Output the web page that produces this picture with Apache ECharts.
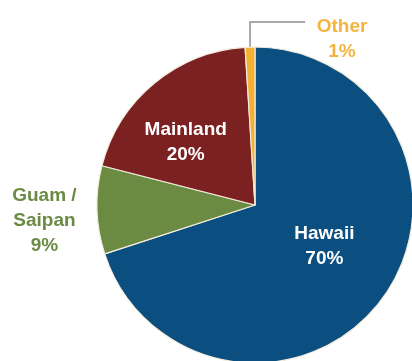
<!DOCTYPE html>
<html>
<head>
<meta charset="utf-8">
<script src="https://cdn.jsdelivr.net/npm/echarts@6/dist/echarts.min.js"></script>
<style>
  html, body { margin: 0; padding: 0; background: #ffffff; }
  #chart { width: 412px; height: 361px; }
</style>
</head>
<body>
<div id="chart"></div>
<script>
// Share of residents by place of origin
const categories = ['Hawaii', 'Guam /\nSaipan', 'Mainland', 'Other'];
const shares = [70, 9, 20, 1];
const sliceColors = ['#0a4f80', '#6b8a42', '#7c2121', '#f3b033'];
const textColors = ['#ffffff', '#6b8a45', '#ffffff', '#f3b33f'];

const chart = echarts.init(document.getElementById('chart'), null, { renderer: 'canvas' });

const baseFont = {
  fontFamily: 'Liberation Sans, Arial, Helvetica, sans-serif',
  fontWeight: 'bold',
  fontSize: 19,
  lineHeight: 25
};

// per-slice label placement
const labelSetup = [
  { position: 'inside', offset: [3, -7] },
  { position: 'outside' },
  { position: 'inside', offset: [-17, 0] },
  { position: 'outside' }
];

const data = categories.map((name, i) => ({
  name: name,
  value: shares[i],
  itemStyle: { color: sliceColors[i] },
  label: Object.assign({
    show: true,
    color: textColors[i],
    align: 'center',
    formatter: '{b}\n{c}%'
  }, baseFont, labelSetup[i]),
  labelLine: { show: i === 3 }
}));

chart.setOption({
  backgroundColor: '#ffffff',
  animation: false,
  series: [{
    type: 'pie',
    center: [255, 205],
    radius: 158,
    startAngle: 90,
    clockwise: true,
    avoidLabelOverlap: false,
    itemStyle: { borderColor: '#f3ebdc', borderWidth: 1.2 },
    labelLine: { lineStyle: { color: '#a8a8a8', width: 2 }, smooth: false },
    data: data,
    labelLayout: function (params) {
      const rect = params.rect;
      if (params.dataIndex === 1) {
        // left of the slice, vertically centred on it
        return {
          x: rect.x - 52,
          y: rect.y + rect.height / 2 + 11,
          align: 'center',
          verticalAlign: 'middle'
        };
      }
      if (params.dataIndex === 3) {
        const p = params.labelLinePoints;
        const sx = p[0][0];
        const sy = p[0][1];
        return {
          x: sx + 92,
          y: sy - 8,
          align: 'center',
          verticalAlign: 'middle',
          labelLinePoints: [[sx, sy], [sx, sy - 25], [sx + 55, sy - 25]]
        };
      }
    }
  }]
});
</script>
</body>
</html>
